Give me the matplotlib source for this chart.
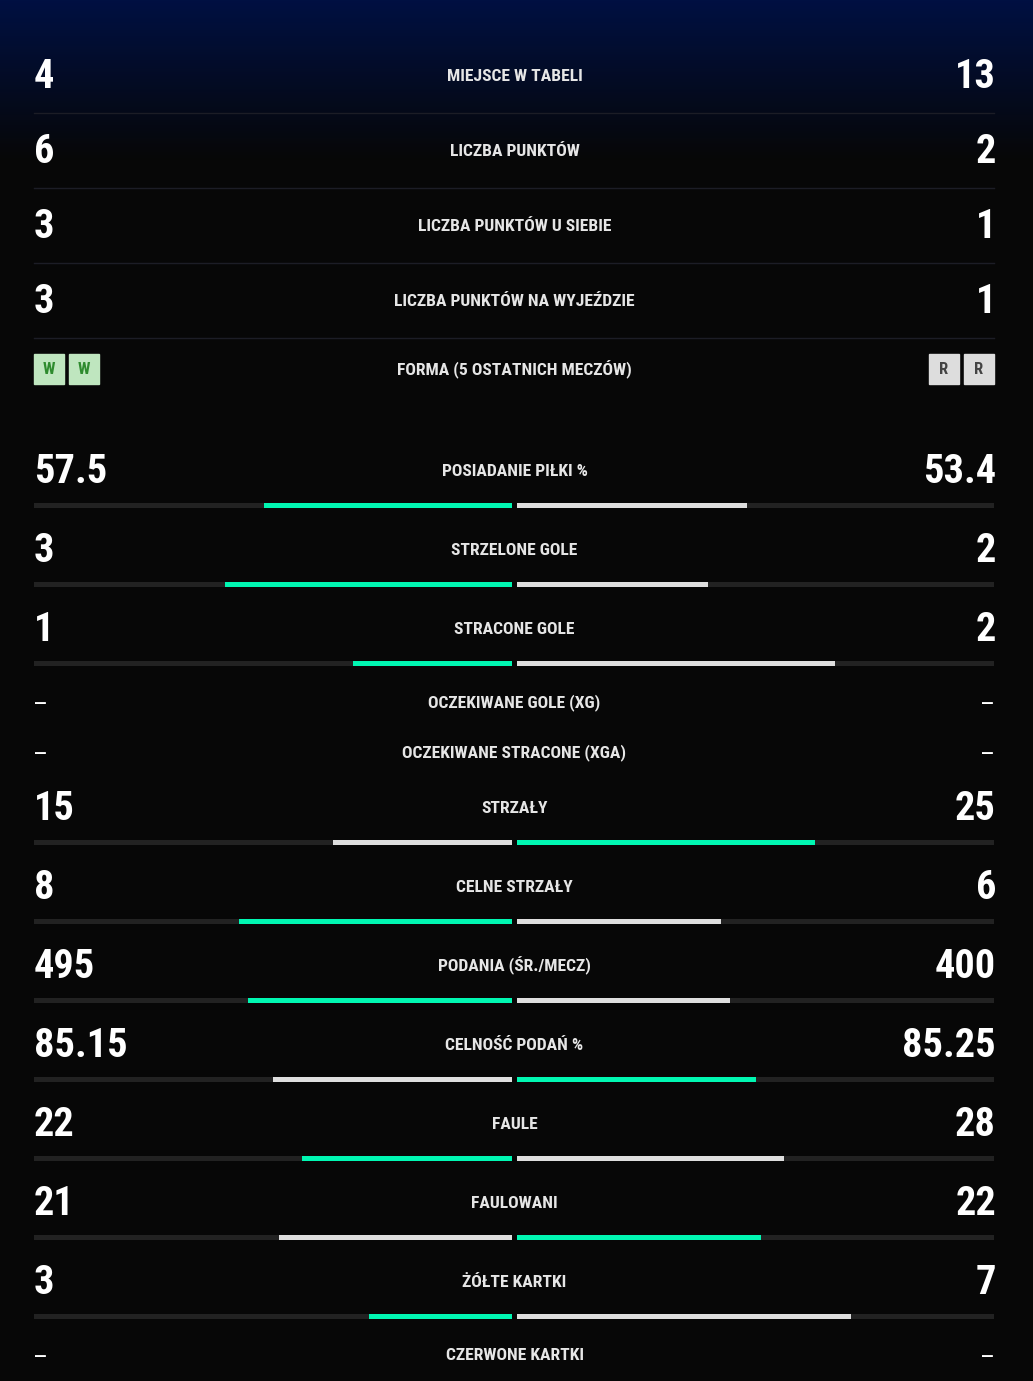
import numpy as np
import matplotlib
matplotlib.use("Agg")
import matplotlib.pyplot as plt
from matplotlib import font_manager
from matplotlib.patches import Rectangle

# Data
top_labels = ["MIEJSCE W TABELI", "LICZBA PUNKTÓW", "LICZBA PUNKTÓW U SIEBIE",
              "LICZBA PUNKTÓW NA WYJEŹDZIE"]
top_home = [4, 6, 3, 3]
top_away = [13, 2, 1, 1]

form_label = "FORMA (5 OSTATNICH MECZÓW)"
form_home = ["W", "W"]
form_away = ["R", "R"]

stat_labels = ["POSIADANIE PIŁKI %", "STRZELONE GOLE", "STRACONE GOLE",
               "OCZEKIWANE GOLE (XG)", "OCZEKIWANE STRACONE (XGA)", "STRZAŁY",
               "CELNE STRZAŁY", "PODANIA (ŚR./MECZ)", "CELNOŚĆ PODAŃ %",
               "FAULE", "FAULOWANI", "ŻÓŁTE KARTKI", "CZERWONE KARTKI"]
stat_home = [57.5, 3, 1, None, None, 15, 8, 495, 85.15, 22, 21, 3, None]
stat_away = [53.4, 2, 2, None, None, 25, 6, 400, 85.25, 28, 22, 7, None]
higher_better = [True, True, False, True, False, True, True, True, True,
                 False, True, False, False]

# Fonts
names = {f.name for f in font_manager.fontManager.ttflist}
fam = "DejaVu Sans"
for cand in ["Roboto Condensed", "Liberation Sans Narrow", "DejaVu Sans Condensed"]:
    if cand in names:
        fam = cand
        break
plt.rcParams["font.family"] = [fam, "DejaVu Sans"]

W, H = 1033, 1381
fig = plt.figure(figsize=(W / 100, H / 100), dpi=100)
ax = fig.add_axes([0, 0, 1, 1])
ax.set_xlim(0, W)
ax.set_ylim(H, 0)
ax.axis("off")

# background gradient: navy at top fading to near-black
t = np.clip(np.linspace(0, H, H) / 160.0, 0, 1)[:, None]
top_c = np.array([0, 16, 66]) / 255
bot_c = np.array([7, 7, 7]) / 255
grad = top_c * (1 - t[..., None]) + bot_c * t[..., None]
grad = np.repeat(grad, 2, axis=1)
ax.imshow(grad, extent=[0, W, H, 0], aspect="auto", zorder=0)

X0, XM_L, XM_R, X1 = 34, 512, 517, 994
NUM_SIZE = 29
LAB_SIZE = 12.6
GREEN = "#00f7b2"
WHITE = "#dedede"
TRACK = "#222222"
LAB_C = "#e6e6e6"


def fmt(v):
    return f"{v:g}"


def row_text(y, label, left, right, big=True):
    ax.text(W / 2 - 2, y + 7, label, ha="center", va="baseline", color=LAB_C,
            fontsize=LAB_SIZE, fontweight="bold", zorder=3)
    if big:
        ax.text(X0, y + 14, left, ha="left", va="baseline", color="white",
                fontsize=NUM_SIZE, fontweight="bold", zorder=3)
        ax.text(X1 + 2, y + 14, right, ha="right", va="baseline", color="white",
                fontsize=NUM_SIZE, fontweight="bold", zorder=3)
    else:
        ax.text(X0 - 1, y + 12, left, ha="left", va="baseline", color="white",
                fontsize=19, zorder=3)
        ax.text(X1 + 1, y + 12, right, ha="right", va="baseline", color="white",
                fontsize=19, zorder=3)


# top section
for i, lab in enumerate(top_labels):
    y = 74 + 75 * i
    row_text(y, lab, str(top_home[i]), str(top_away[i]))
    ax.plot([X0, X1], [y + 39, y + 39], color="#1c1d26", lw=1, zorder=2)

# form row
fy = 368
ax.text(W / 2 - 2, fy + 7, form_label, ha="center", va="baseline", color=LAB_C,
        fontsize=LAB_SIZE, fontweight="bold", zorder=3)
for i, r in enumerate(form_home):
    x = X0 + 35 * i
    ax.add_patch(Rectangle((x, fy - 14), 30, 30, color="#bfe6bf", zorder=3))
    ax.text(x + 15, fy + 1, r, ha="center", va="center", color="#2e8b2e",
            fontsize=12, fontweight="bold", zorder=4)
for i, r in enumerate(form_away):
    x = X1 - 30 - 35 * (len(form_away) - 1 - i)
    ax.add_patch(Rectangle((x, fy - 14), 30, 30, color="#dddddd", zorder=3))
    ax.text(x + 15, fy + 1, r, ha="center", va="center", color="#444444",
            fontsize=12, fontweight="bold", zorder=4)

# stat rows with bars
cur = 469
for lab, h, a, hb in zip(stat_labels, stat_home, stat_away, higher_better):
    if h is None:
        row_text(cur - 6, lab, "–", "–", big=False)
        cur += 50
        continue
    row_text(cur, lab, fmt(h), fmt(a))
    by = cur + 36
    tot = h + a
    lw_ = XM_L - X0
    rw_ = X1 - XM_R
    ax.barh(by, lw_, left=X0, height=5, color=TRACK, zorder=2)
    ax.barh(by, rw_, left=XM_R, height=5, color=TRACK, zorder=2)
    home_better = (h > a) if hb else (h < a)
    ax.barh(by, -lw_ * h / tot, left=XM_L, height=5,
            color=GREEN if home_better else WHITE, zorder=3)
    ax.barh(by, rw_ * a / tot, left=XM_R, height=5,
            color=WHITE if home_better else GREEN, zorder=3)
    cur += 79

fig.savefig("out.png", dpi=100, facecolor="#070707")
